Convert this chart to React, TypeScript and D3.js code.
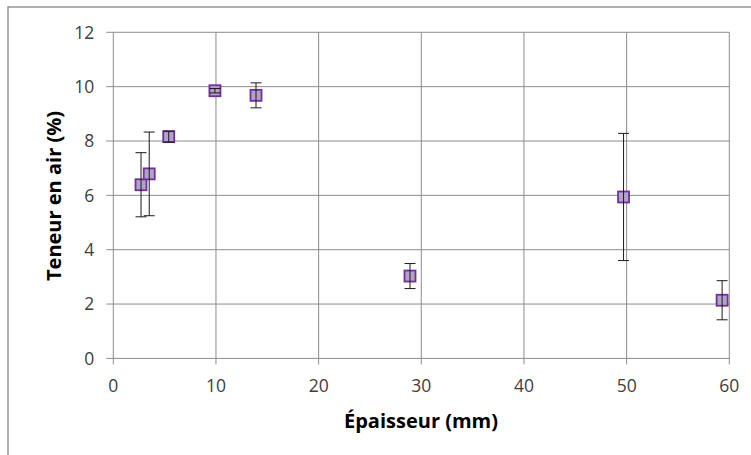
import React from "react";
import * as d3 from "d3";

const thickness = [2.7, 3.5, 5.4, 9.9, 13.9, 28.9, 49.7, 59.3];
const airContent = [6.39, 6.79, 8.16, 9.85, 9.68, 3.03, 5.94, 2.14];
const errorValues = [1.18, 1.54, 0.2, 0.08, 0.46, 0.46, 2.34, 0.72];
const xTicks = [0, 10, 20, 30, 40, 50, 60];
const yTicks = [0, 2, 4, 6, 8, 10, 12];

const W = 751;
const H = 455;
const left = 113.3;
const right = 729.3;
const top = 32.3;
const bottom = 358.4;

export default function App() {
  const x = d3.scaleLinear().domain([0, 60]).range([left, right]);
  const y = d3.scaleLinear().domain([0, 12]).range([bottom, top]);
  const font = "'Open Sans', sans-serif";
  const grid = "#8c8c8c";
  return (
    <svg width={W} height={H} style={{ position: "absolute", left: 0, top: 0 }}>
      <rect x={0} y={0} width={W} height={H} fill="#fff" />
      <rect x={8} y={7} width={W + 20} height={H + 20} fill="#fff" stroke="#868686" strokeWidth={1.3} />
      {yTicks.map((t) => (
        <g key={"y" + t}>
          <line x1={left - 7} x2={right} y1={y(t)} y2={y(t)} stroke={grid} strokeWidth={1} />
          <text x={left - 19} y={y(t)} dy="0.36em" textAnchor="end" fontFamily={font} fontSize={17.5} fill="#404040">
            {t}
          </text>
        </g>
      ))}
      {xTicks.map((t) => (
        <g key={"x" + t}>
          <line x1={x(t)} x2={x(t)} y1={top} y2={bottom + 6} stroke={grid} strokeWidth={1} />
          <text x={x(t)} y={bottom + 33.5} textAnchor="middle" fontFamily={font} fontSize={17.5} fill="#404040">
            {t}
          </text>
        </g>
      ))}
      {thickness.map((xv, i) => {
        const cx = x(xv);
        const cy = y(airContent[i]);
        return (
          <rect key={"m" + i} x={cx - 5.5} y={cy - 5.5} width={11} height={11} fill="#b3a2c7" stroke="#7030a0" strokeWidth={1.8} />
        );
      })}
      {thickness.map((xv, i) => {
        const cx = x(xv);
        const y1 = y(airContent[i] + errorValues[i]);
        const y2 = y(airContent[i] - errorValues[i]);
        return (
          <g key={"e" + i} stroke="#1a1a1a" strokeWidth={1}>
            <line x1={cx} x2={cx} y1={y1} y2={y2} />
            <line x1={cx - 5.5} x2={cx + 5.5} y1={y1} y2={y1} />
            <line x1={cx - 5.5} x2={cx + 5.5} y1={y2} y2={y2} />
          </g>
        );
      })}
      <text x={421} y={428} textAnchor="middle" fontFamily={font} fontWeight="bold" fontSize={20} fill="#000">
        Épaisseur (mm)
      </text>
      <text
        transform={`translate(61,196) rotate(-90)`}
        textAnchor="middle"
        fontFamily={font}
        fontWeight="bold"
        fontSize={20}
        fill="#000"
      >
        Teneur en air (%)
      </text>
    </svg>
  );
}
